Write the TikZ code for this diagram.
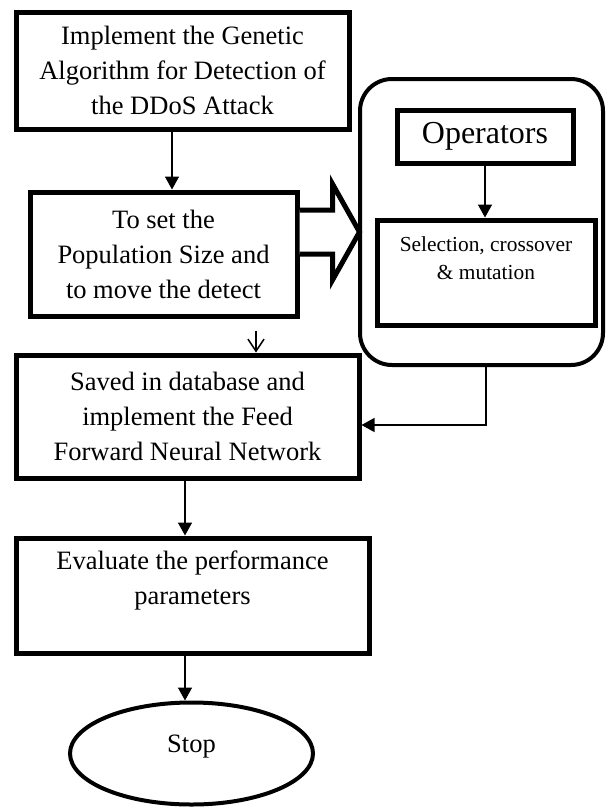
\documentclass[tikz,border=0pt]{standalone}
\usepackage{fontspec}
\setmainfont{Liberation Serif}
\usetikzlibrary{arrows.meta,shapes.geometric}

\begin{document}
\begin{tikzpicture}[x=1pt, y=-1pt,
    main/.style = {draw, line width=5pt, inner sep=0pt, align=center, font=\fontsize{26.5}{35}\selectfont},
    group/.style = {draw, line width=4pt, rounded corners=32pt, inner sep=0pt},
    arr/.style = {line width=1.5pt, -{Triangle[length=13pt,width=14pt]}},
    open/.style = {line width=1.5pt, -{Straight Barb[length=12pt,width=16pt]}},
    hollow/.style = {draw, line width=5pt, fill=white, line join=miter}]
    \useasboundingbox (0,0) rectangle (609,807);

    \node[main, minimum width=333pt, minimum height=117pt] (1) at (182.5,70.5) {Implement the Genetic\\Algorithm for Detection of\\the DDoS Attack};
    \node[main, minimum width=267pt, minimum height=124pt] (2) at (163.5,254) {To set the\\Population Size and\\to move the detect};
    \node[main, minimum width=343pt, minimum height=123pt] (3) at (187.5,416.5) {Saved in database and\\implement the Feed\\Forward Neural Network};
    \node[main, minimum width=353pt, minimum height=115pt] (4) at (192.5,595.5) {Evaluate the performance\\parameters\\~};
    \node[main, ellipse, line width=4pt, minimum width=243pt, minimum height=102pt, text height=18pt, text depth=21pt] (5) at (191.5,753.5) {Stop};

    \node[group, minimum width=243pt, minimum height=286pt] (6) at (481.5,222) {};
    \node[main, font=\fontsize{32}{38}\selectfont, minimum width=176pt, minimum height=53pt] (7) at (485,136.5) {Operators};
    \node[main, font=\fontsize{21.4}{28}\selectfont, minimum width=218pt, minimum height=105pt] (8) at (486,272.5) {Selection, crossover\\\& mutation\\~};

    \draw[arr] ([xshift=-10.5pt]1.south) -- ([xshift=8.5pt]2.north);
    \draw[hollow] ([yshift=44pt]2.east) -- ++(33,0) -- ++(0,-26) -- ++(27,48) -- ++(-27,48) -- ++(0,-26) -- (2.east);
    \draw[open] ([xshift=92.5pt,yshift=-12pt]2.south) -- ([xshift=68.5pt]3.north);
    \draw[arr] (7.south) -- (7.south |- 8.north);
    \draw[arr, line width=1.2pt] ([xshift=4.5pt]6.south) |- ([yshift=-8.5pt]3.east);
    \draw[arr] ([xshift=-2.5pt]3.south) -- ([xshift=-7.5pt]4.north);
    \draw[arr] ([xshift=-7.5pt]4.south) -- ([xshift=-6.5pt]5.north);

    \end{tikzpicture}
\end{document}
